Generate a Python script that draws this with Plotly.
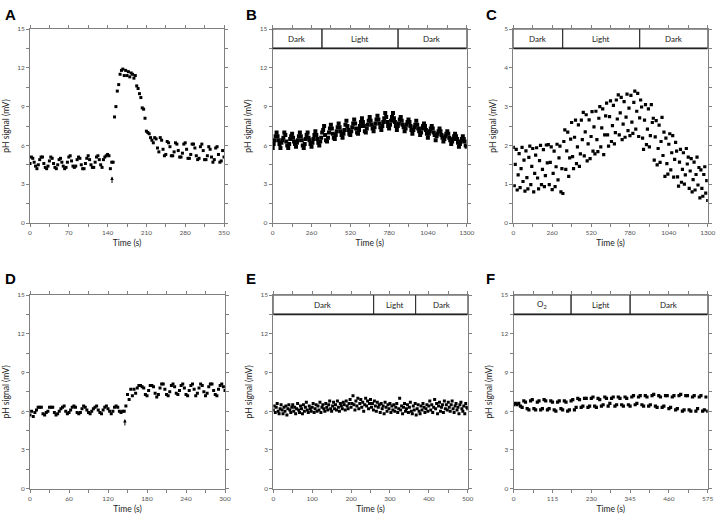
import numpy as np
import plotly.graph_objects as go

# ---- data ----
# A: pH response, sampled every 2.5 s
a_step = 2.5
a_ph = [4.6, 5.1, 5.0, 4.7, 4.4, 4.2, 4.5, 4.9, 5.1, 5.1, 4.6, 4.3, 4.2, 4.4,
        4.8, 5.1, 5.0, 4.6, 4.3, 4.2, 4.5, 4.9, 5.0, 4.7, 4.4, 4.2, 4.3, 4.7,
        5.1, 5.2, 4.8, 4.4, 4.3, 4.4, 4.9, 5.1, 5.0, 4.5, 4.2, 4.2, 4.6, 5.0,
        5.2, 4.9, 4.5, 4.3, 4.3, 4.7, 5.1, 5.2, 4.9, 4.5, 4.3, 4.9, 5.1, 5.2,
        5.3, 5.2, 4.2, 4.7, 4.7, 8.2, 9.0, 10.2, 10.7, 11.5, 11.8, 11.9, 11.4,
        11.8, 11.4, 11.7, 11.3, 11.6, 11.5, 11.2, 11.4, 10.6, 10.4, 10.0, 9.7,
        8.9, 8.8, 8.1, 7.1, 7.0, 6.9, 6.6, 6.4, 6.2,
        6.6, 6.5, 5.8, 5.5, 6.6, 6.4, 5.7, 5.2, 5.3, 6.3, 6.2, 5.9, 5.2, 5.2,
        5.5, 6.2, 6.1, 5.6, 5.1, 5.1, 5.4, 6.1, 6.2, 5.7, 5.0, 5.0, 5.3, 6.1,
        6.1, 5.8, 5.2, 4.9, 5.0, 5.9, 6.1, 5.6, 4.9, 4.9, 5.2, 5.9, 5.7, 5.1,
        4.7, 4.9, 5.8, 5.9, 5.3, 4.7, 4.8, 5.6, 5.1]

# B: dark / light / dark, sampled every 6.5 s
b_step = 6.5
b_ph = [5.8, 6.1, 6.4, 6.7, 7.0, 6.7, 6.4, 6.1,
        5.8, 6.2, 6.4, 6.6, 7.0, 6.8, 6.3, 6.0,
        5.8, 6.1, 6.5, 6.7, 6.9, 6.6, 6.3, 6.1,
        5.9, 6.2, 6.4, 6.7, 7.0, 6.7, 6.4, 6.0,
        5.8, 6.1, 6.5, 6.8, 7.0, 6.6, 6.4, 6.1,
        5.9, 6.2, 6.5, 6.8, 7.1, 6.8, 6.5, 6.2,
        6.0, 6.3, 6.6, 7.0, 7.2, 7.5, 6.8, 6.4,
        6.3, 6.6, 7.0, 7.3, 7.6, 7.3, 6.9, 6.6,
        6.5, 6.8, 7.1, 7.4, 7.7, 7.4, 7.1, 6.8,
        6.6, 6.9, 7.2, 7.6, 7.9, 7.5, 7.2, 6.9,
        6.8, 7.1, 7.4, 7.7, 8.0, 7.7, 7.3, 7.0,
        6.9, 7.2, 7.5, 7.8, 8.1, 7.8, 7.5, 7.1,
        7.0, 7.3, 7.6, 7.9, 8.2, 7.9, 7.6, 7.3,
        7.1, 7.4, 7.7, 8.0, 8.3, 8.0, 7.7, 7.4,
        7.2, 7.5, 7.8, 8.1, 8.5, 8.2, 7.8, 7.5,
        7.3, 7.6, 7.9, 8.2, 8.5, 8.1, 7.8, 7.5,
        7.2, 7.5, 7.7, 8.0, 8.2, 7.9, 7.6, 7.4,
        7.1, 7.3, 7.6, 7.8, 8.0, 7.8, 7.5, 7.2,
        6.9, 7.2, 7.4, 7.6, 7.9, 7.6, 7.3, 7.1,
        6.8, 7.0, 7.3, 7.5, 7.7, 7.5, 7.2, 6.9,
        6.6, 6.9, 7.1, 7.3, 7.5, 7.3, 7.0, 6.8,
        6.4, 6.7, 6.9, 7.1, 7.3, 7.1, 6.8, 6.6,
        6.3, 6.5, 6.7, 6.9, 7.1, 6.9, 6.6, 6.4,
        6.1, 6.3, 6.5, 6.7, 6.9, 6.7, 6.5, 6.2,
        5.9, 6.1, 6.3, 6.5, 6.7, 6.5, 6.3, 6.0,
        5.9]

# C: dark / light / dark, sampled every 6.5 s
c_step = 6.5
c_ph = [1.95, 0.96, 1.51, 1.90, 0.85, 1.24, 1.79, 0.91, 1.40, 1.95, 1.07, 1.62,
        0.82, 1.86, 1.17, 0.88, 1.69, 1.98, 0.99, 1.46, 1.92, 0.80, 1.28, 1.75,
        1.94, 1.16, 0.88, 1.61, 2.00, 0.99, 1.38, 1.89, 0.94, 1.22, 2.01, 1.55,
        2.02, 0.99, 1.56, 1.96, 0.86, 1.28, 1.85, 0.94, 1.45, 2.03, 1.11, 1.68,
        1.98, 0.80, 1.40, 0.76, 2.10, 2.40, 1.38, 1.86, 2.34, 1.20, 1.68, 2.16,
        2.59, 1.71, 1.40, 2.21, 2.65, 1.53, 1.96, 2.53, 1.46, 1.78, 2.65, 2.15,
        2.85, 1.73, 2.35, 2.79, 1.60, 2.04, 2.66, 1.66, 2.23, 2.87, 1.85, 2.48,
        1.78, 2.88, 2.15, 1.84, 2.70, 3.00, 1.96, 2.45, 2.94, 1.76, 2.27, 2.76,
        3.09, 2.27, 1.98, 2.74, 3.15, 2.10, 2.51, 3.03, 2.04, 2.33, 3.17, 2.68,
        3.30, 2.27, 2.84, 3.24, 2.15, 2.55, 3.13, 2.21, 2.73, 3.32, 2.38, 2.96,
        2.25, 3.29, 2.60, 2.31, 3.11, 3.40, 2.42, 2.88, 3.34, 2.23, 2.71, 3.17,
        2.99, 2.19, 1.90, 2.65, 3.05, 2.02, 2.42, 2.94, 1.96, 2.25, 3.05, 2.59,
        2.70, 1.62, 2.22, 2.64, 1.50, 1.92, 2.52, 1.56, 2.10, 2.72, 1.74, 2.34,
        1.20, 2.19, 1.53, 1.26, 2.03, 2.30, 1.37, 1.81, 2.25, 1.18, 1.64, 2.08,
        1.85, 1.19, 0.95, 1.57, 1.90, 1.05, 1.38, 1.81, 1.00, 1.24, 1.92, 1.52,
        1.70, 0.89, 1.34, 1.66, 0.80, 1.12, 1.57, 0.85, 1.25, 1.70, 0.98, 1.43,
        0.65, 1.37, 0.89, 0.69, 1.25, 1.45, 0.77, 1.09, 0.58]

# D: pH response, sampled every 2.5 s
d_step = 2.5
d_ph = [5.7, 6.0, 5.6, 5.9, 6.1, 6.3, 6.3, 6.3, 5.8, 5.7, 5.9, 6.0, 6.3, 6.3,
        6.3, 5.9, 5.7, 5.8, 6.0, 6.2, 6.3, 6.4, 6.0, 5.8, 5.9, 6.1, 6.3, 6.4,
        6.3, 5.9, 5.8, 5.9, 6.2, 6.4, 6.3, 6.1, 5.9, 5.8, 6.0, 6.2, 6.3, 6.4,
        6.1, 5.9, 5.8, 6.1, 6.3, 6.4, 6.2, 6.0, 5.8, 6.0, 6.3, 6.4, 6.3, 6.0,
        5.9, 6.0, 6.0, 6.4, 7.3, 6.9, 7.7, 7.2, 7.7, 7.4, 7.8, 8.0, 8.0,
        7.9, 7.8, 7.3, 7.2, 7.6, 8.0, 8.0, 7.9, 7.4, 7.1, 7.3, 7.8, 8.1, 8.1,
        7.7, 7.3, 7.2, 7.5, 8.0, 8.1, 7.9, 7.4, 7.3, 7.6, 8.0, 8.1, 7.8, 7.3,
        7.2, 7.6, 8.0, 8.1, 7.7, 7.2, 7.4, 7.8, 8.1, 8.0, 7.5, 7.2, 7.4, 7.9,
        8.1, 8.1, 7.6, 7.3, 7.2, 7.7, 8.0, 8.1, 7.9, 7.6]

# E: dark / light / dark, sampled every 2.5 s
e_step = 2.5
e_ph = [6.1, 6.4, 5.9, 6.3, 6.6, 6.0, 5.8, 6.2, 6.5, 6.1, 5.8, 6.3, 6.0, 6.4, 5.7, 6.2, 6.5, 6.1, 5.9, 6.3,
        6.5, 6.0, 6.3, 5.8, 6.2, 6.6, 6.1, 5.9, 6.4, 6.2, 5.8, 6.5, 6.0, 6.3, 6.7, 6.1, 5.9, 6.4, 6.2, 6.0,
        6.3, 6.6, 5.9, 6.2, 6.5, 6.0, 6.4, 6.1, 6.7, 5.9, 6.3, 6.5, 6.2, 6.0, 6.6, 6.3, 6.1, 6.5, 6.8, 6.2,
        6.0, 6.4, 6.7, 6.2, 6.5, 6.1, 6.8, 6.3, 6.0, 6.6, 6.4, 6.2, 6.7, 6.5, 6.1, 6.8, 6.4, 6.2, 6.6, 6.9,
        6.3, 6.6, 7.2, 6.5, 6.1, 6.8, 6.4, 7.0, 6.2, 6.6, 6.9, 6.3, 6.7, 6.0, 6.5, 7.0, 6.4, 6.8, 6.2, 6.6,
        6.9, 6.3, 6.6, 6.1, 6.8, 6.4, 6.0, 6.7, 6.3, 6.5, 5.9, 6.6, 6.2, 6.4, 5.8, 6.7, 6.3, 6.0, 6.5, 6.2,
        6.6, 5.9, 6.4, 6.1, 6.5, 6.0, 6.3, 6.6, 5.9, 6.2, 7.0, 6.1, 6.4, 5.8, 6.3, 6.6, 6.0, 6.2, 6.5, 5.9,
        6.3, 6.7, 6.0, 5.8, 6.4, 6.1, 6.6, 5.7, 6.2, 6.5, 6.0, 5.8, 6.4, 6.1, 6.6, 6.3, 5.9, 6.2, 6.5, 6.0,
        6.4, 6.8, 6.1, 6.5, 5.9, 6.3, 6.9, 6.2, 6.6, 5.8, 6.4, 6.7, 6.0, 6.3, 6.5, 5.9, 6.8, 6.2, 6.5, 6.1,
        6.7, 6.3, 6.0, 6.5, 6.8, 6.2, 5.9, 6.4, 6.6, 6.1, 6.3, 5.8, 6.5, 6.7, 6.2, 6.0, 6.4, 5.8, 6.6, 6.3,
        6.2]

# F: O2 / light / dark, sampled every 5 s
f_step = 5.0
f_ph = [6.5, 6.6, 6.5, 6.6, 6.4, 6.3, 6.8, 6.7,
        6.2, 6.1, 6.8, 6.9, 6.2, 6.1, 6.7, 6.8,
        6.1, 6.2, 6.9, 6.8, 6.1, 6.2, 6.8, 6.7,
        6.1, 6.0, 6.7, 6.8, 6.2, 6.1, 6.8, 6.7,
        6.0, 6.1, 6.8, 6.9, 6.1, 6.3, 7.0, 6.9,
        6.3, 6.4, 7.0, 7.0, 6.3, 6.4, 7.0, 7.1,
        6.4, 6.3, 7.0, 6.9, 6.4, 6.5, 7.1, 7.0,
        6.4, 6.6, 7.0, 7.1, 6.4, 6.5, 7.1, 7.0,
        6.5, 6.4, 7.1, 7.0, 6.5, 6.4, 7.1, 7.2,
        6.5, 6.6, 7.1, 7.2, 6.5, 6.4, 7.2, 7.1,
        6.4, 6.5, 7.2, 7.3, 6.4, 6.3, 7.2, 7.1,
        6.3, 6.4, 7.2, 7.2, 6.2, 6.3, 7.1, 7.2,
        6.1, 6.2, 7.2, 7.3, 6.0, 6.1, 7.2, 7.2,
        6.1, 6.0, 7.1, 7.2, 6.0, 6.2, 7.1, 7.2,
        6.0, 6.1, 7.1, 6.0]

# header bars (condition labels and their boundaries in seconds)
b_phases, b_edges = ["Dark", "Light", "Dark"], [0, 330, 840, 1300]
c_phases, c_edges = ["Dark", "Light", "Dark"], [0, 330, 845, 1300]
e_phases, e_edges = ["Dark", "Light", "Dark"], [0, 258, 366, 500]
f_phases, f_edges = ["O<sub>2</sub>", "Light", "Dark"], [0, 170, 345, 575]

panels = [
    dict(letter="A", ph=a_ph, step=a_step, xmax=350, xdt=70, ymax=15, ydt=3,
         arrow=(148, 3.6), header=None, msize=3),
    dict(letter="B", ph=b_ph, step=b_step, xmax=1300, xdt=260, ymax=15, ydt=3,
         arrow=None, header=(b_phases, b_edges), msize=4),
    dict(letter="C", ph=c_ph, step=c_step, xmax=1300, xdt=260, ymax=5, ydt=1,
         arrow=None, header=(c_phases, c_edges), msize=3.2),
    dict(letter="D", ph=d_ph, step=d_step, xmax=300, xdt=60, ymax=15, ydt=3,
         arrow=(146, 5.4), header=None, msize=3),
    dict(letter="E", ph=e_ph, step=e_step, xmax=500, xdt=100, ymax=15, ydt=3,
         arrow=None, header=(e_phases, e_edges), msize=3),
    dict(letter="F", ph=f_ph, step=f_step, xmax=575, xdt=115, ymax=15, ydt=3,
         arrow=None, header=(f_phases, f_edges), msize=3.2),
]

W, H = 717, 522
xdoms = [(30, 224), (272.7, 466.7), (513.3, 707.7),
         (30, 225), (273.3, 467.7), (513.7, 707.7)]
ydoms = [(29, 223)] * 3 + [(295, 488.7)] * 3
letter_pos = [(3, 4), (244, 4), (484, 4), (3, 268), (244, 268), (484, 268)]

FONT = "Lato, 'Open Sans', sans-serif"
AX = "#808080"

fig = go.Figure()
layout = {}
annotations = []
shapes = []

for i, p in enumerate(panels):
    n = "" if i == 0 else str(i + 1)
    xa, ya = "x" + n, "y" + n
    t = np.arange(len(p["ph"])) * p["step"]
    fig.add_trace(go.Scatter(x=t, y=p["ph"], xaxis=xa, yaxis=ya, mode="markers",
                             marker=dict(symbol="square", size=p["msize"], color="black",
                                         line=dict(width=0)),
                             showlegend=False))

    # ticks every half step, label only the full steps
    xv = np.arange(0, p["xmax"] + 1e-6, p["xdt"] / 2)
    xt = [f"{v:g}" if k % 2 == 0 else "" for k, v in enumerate(xv)]
    yv = np.arange(0, p["ymax"] + 1e-6, p["ydt"] / 2)
    yt = [f"{v:g}" if k % 2 == 0 else "" for k, v in enumerate(yv)]

    x0, x1 = xdoms[i]
    y0, y1 = ydoms[i]
    common = dict(showline=True, linecolor=AX, linewidth=1, mirror="allticks",
                  ticks="outside", ticklen=3, tickcolor=AX, tickwidth=1,
                  showgrid=False, zeroline=False, automargin=False,
                  tickfont=dict(size=6.5, color="#555555", family=FONT))
    layout["xaxis" + n] = dict(common, domain=[x0 / W, x1 / W], anchor=ya,
                               range=[0, p["xmax"]], tickmode="array",
                               tickvals=xv, ticktext=xt,
                               title=dict(text="Time (s)", standoff=5,
                                          font=dict(size=8.5, color="#222222", family=FONT)))
    layout["yaxis" + n] = dict(common, domain=[1 - y1 / H, 1 - y0 / H], anchor=xa,
                               range=[0, p["ymax"]], tickmode="array",
                               tickvals=yv, ticktext=yt,
                               title=dict(text="pH signal (mV)", standoff=6,
                                          font=dict(size=8.5, color="#222222", family=FONT)))

    lx, ly = letter_pos[i]
    annotations.append(dict(text=f"<b>{p['letter']}</b>", xref="paper", yref="paper",
                            x=lx / W, y=1 - ly / H, xanchor="left", yanchor="top",
                            showarrow=False, font=dict(size=15, color="black",
                                                       family="Liberation Sans, Arial")))
    if p["arrow"]:
        # small upward arrow marking the addition time
        annotations.append(dict(text="", x=p["arrow"][0], y=p["arrow"][1],
                                xref=xa, yref=ya, showarrow=True, ax=0, ay=8,
                                arrowhead=2, arrowsize=0.7, arrowwidth=1,
                                arrowcolor="black"))
    if p["header"]:
        names, edges = p["header"]
        ybot = p["ymax"] * 0.9
        for k, name in enumerate(names):
            shapes.append(dict(type="rect", xref=xa, yref=ya, x0=edges[k], x1=edges[k + 1],
                               y0=ybot, y1=p["ymax"], line=dict(color="#333333", width=1)))
            annotations.append(dict(text=name, x=(edges[k] + edges[k + 1]) / 2,
                                    y=(ybot + p["ymax"]) / 2, xref=xa, yref=ya,
                                    showarrow=False,
                                    font=dict(size=8, color="#222222", family=FONT)))
        shapes.append(dict(type="line", xref=xa, yref=ya, x0=0, x1=p["xmax"],
                           y0=ybot, y1=ybot, line=dict(color="#222222", width=1.6)))

fig.update_layout(**layout)
fig.update_layout(width=W, height=H, margin=dict(l=0, r=0, t=0, b=0),
                  plot_bgcolor="white", paper_bgcolor="white",
                  annotations=annotations, shapes=shapes,
                  font=dict(family=FONT))

# drop the default page margin so the figure sits at the window's corner
fig.write_html("out.html", config={"displayModeBar": False},
               post_script="document.body.style.margin = '0';")
